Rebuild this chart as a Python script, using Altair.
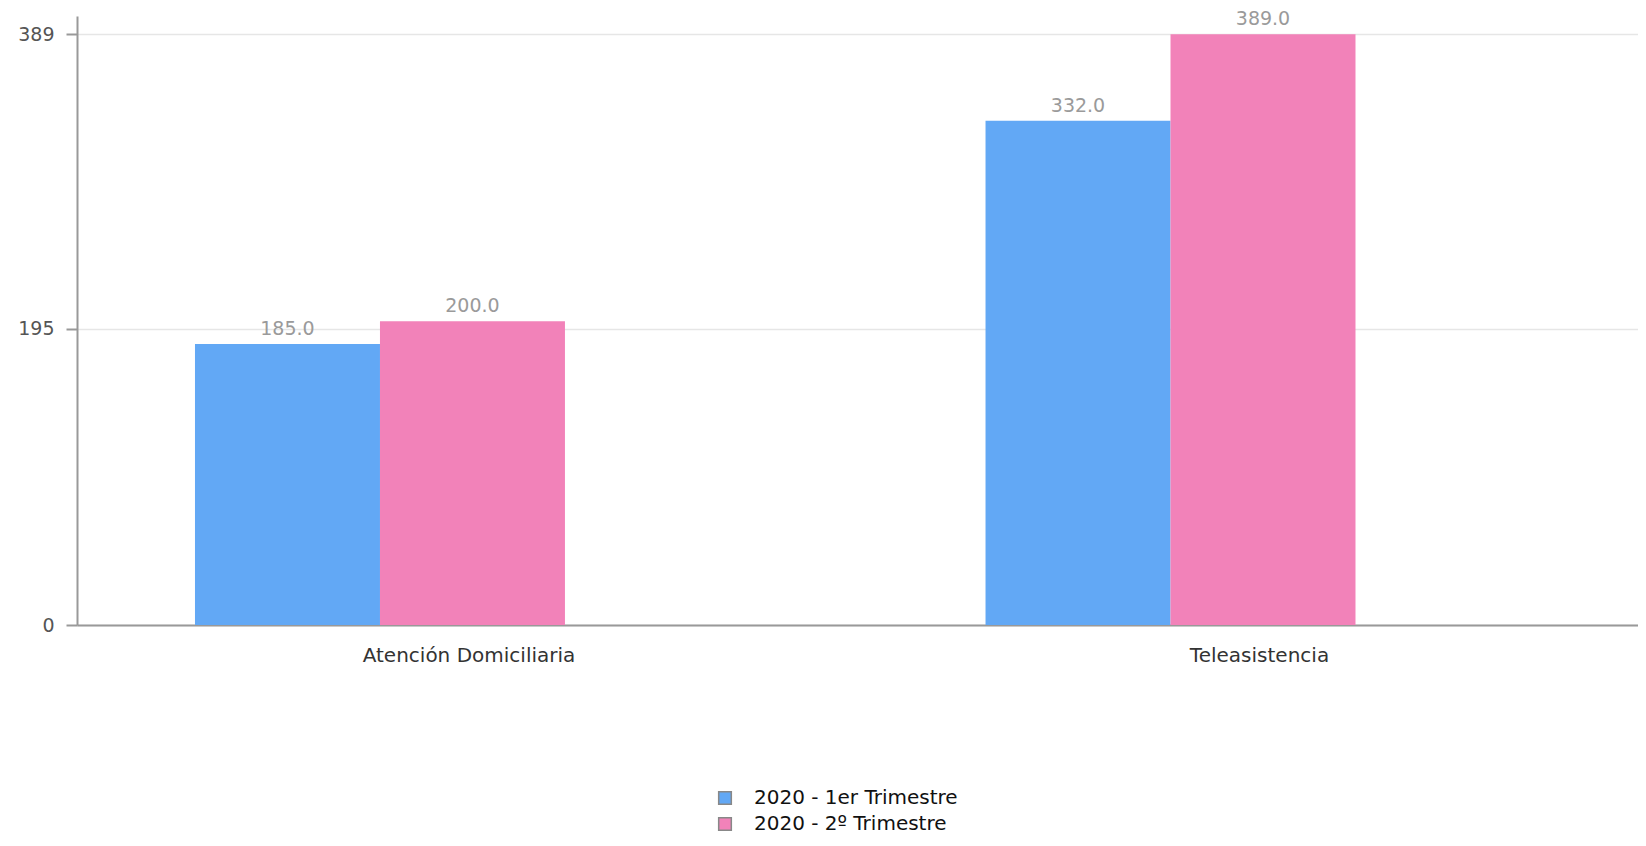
import altair as alt
import pandas as pd

categorias = ["Atención Domiciliaria", "Teleasistencia"]
series = ["2020 - 1er Trimestre", "2020 - 2º Trimestre"]
valores_t1 = [185.0, 332.0]
valores_t2 = [200.0, 389.0]
colores = ["#62a8f5", "#f282b9"]
ticks_y = [0, 195, 389]

rows = []
for i, c in enumerate(categorias):
    rows.append({"categoria": c, "serie": series[0], "valor": valores_t1[i]})
    rows.append({"categoria": c, "serie": series[1], "valor": valores_t2[i]})
df = pd.DataFrame(rows)

FONT = "DejaVu Sans"

x = alt.X("categoria:N", sort=categorias, title=None,
          scale=alt.Scale(paddingInner=0.532, paddingOuter=0.2533, align=0.2946),
          axis=alt.Axis(labelAngle=0, labelFont=FONT, labelFontSize=20, labelColor="#333333",
                        labelPadding=20, labelOffset=89, labelLimit=400, ticks=False,
                        domainColor="#999999", domainWidth=2, grid=False))
xo = alt.XOffset("serie:N", sort=series, scale=alt.Scale(paddingInner=0, paddingOuter=0))
y = alt.Y("valor:Q", title=None,
          scale=alt.Scale(domain=[0, 401], nice=False),
          axis=alt.Axis(values=ticks_y, labelFont=FONT, labelFontSize=19, labelColor="#555555",
                        labelPadding=12, tickSize=11, tickColor="#999999", tickWidth=2,
                        domainColor="#999999", domainWidth=2,
                        gridColor="#e6e6e6", gridWidth=1.5))

bars = alt.Chart(df).mark_bar().encode(
    x=x, xOffset=xo, y=y,
    color=alt.Color("serie:N", sort=series, title=None,
                    scale=alt.Scale(domain=series, range=colores),
                    legend=alt.Legend(orient="none", legendX=638, legendY=772, direction="vertical",
                                      symbolType="square", symbolSize=160, symbolStrokeColor="#888888",
                                      symbolStrokeWidth=1.5, labelFont=FONT, labelFontSize=20,
                                      labelLimit=400, labelColor="#111111", labelOffset=19,
                                      rowPadding=6, padding=0))
)

labels = alt.Chart(df).mark_text(dy=-9, font=FONT, fontSize=19, color="#9a9a9a",
                                 baseline="alphabetic").encode(
    x=x, xOffset=xo, y=y, text=alt.Text("valor:Q", format=".1f")
)

chart = (bars + labels).properties(
    width=1561, height=609,
    background="white",
    autosize=alt.AutoSizeParams(type="none"),
    padding={"left": 69, "top": 8, "right": 0, "bottom": 213},
).configure_view(strokeWidth=0, stroke="transparent")

chart.save("out.html", embed_options={"renderer": "svg", "actions": False})
